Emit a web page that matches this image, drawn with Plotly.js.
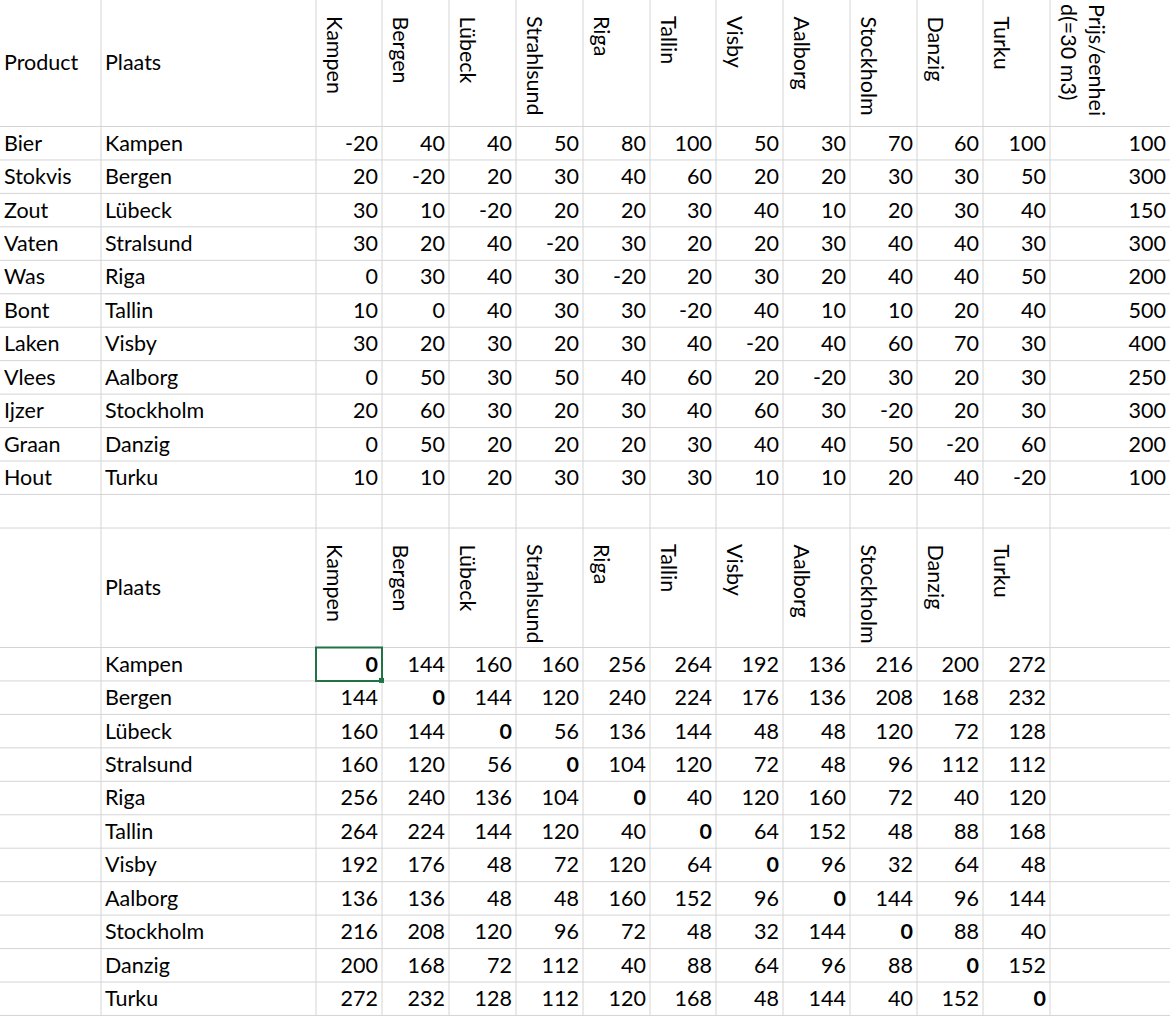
<!DOCTYPE html>
<html>
<head>
<meta charset="utf-8">
<script src="https://cdn.plot.ly/plotly-3.0.1.min.js"></script>
<style>body{margin:0;background:#fff}#sheet{width:1170px;height:1016px}</style>
</head>
<body>
<div id="sheet"></div>
<script>
// sheet contents
var products = ['Bier','Stokvis','Zout','Vaten','Was','Bont','Laken','Vlees','Ijzer','Graan','Hout'];
var places = ['Kampen','Bergen','Lübeck','Stralsund','Riga','Tallin','Visby','Aalborg','Stockholm','Danzig','Turku'];
var headCities = ['Kampen','Bergen','Lübeck','Strahlsund','Riga','Tallin','Visby','Aalborg','Stockholm','Danzig','Turku'];
var prices = [100,300,150,300,200,500,400,250,300,200,100];
var profit = [
  [-20,40,40,50,80,100,50,30,70,60,100],
  [20,-20,20,30,40,60,20,20,30,30,50],
  [30,10,-20,20,20,30,40,10,20,30,40],
  [30,20,40,-20,30,20,20,30,40,40,30],
  [0,30,40,30,-20,20,30,20,40,40,50],
  [10,0,40,30,30,-20,40,10,10,20,40],
  [30,20,30,20,30,40,-20,40,60,70,30],
  [0,50,30,50,40,60,20,-20,30,20,30],
  [20,60,30,20,30,40,60,30,-20,20,30],
  [0,50,20,20,20,30,40,40,50,-20,60],
  [10,10,20,30,30,30,10,10,20,40,-20]
];
var dist = [
  [0,144,160,160,256,264,192,136,216,200,272],
  [144,0,144,120,240,224,176,136,208,168,232],
  [160,144,0,56,136,144,48,48,120,72,128],
  [160,120,56,0,104,120,72,48,96,112,112],
  [256,240,136,104,0,40,120,160,72,40,120],
  [264,224,144,120,40,0,64,152,48,88,168],
  [192,176,48,72,120,64,0,96,32,64,48],
  [136,136,48,48,160,152,96,0,144,96,144],
  [216,208,120,96,72,48,32,144,0,88,40],
  [200,168,72,112,40,88,64,96,88,0,152],
  [272,232,128,112,120,168,48,144,40,152,0]
];

// sheet geometry (pixels)
var colEdges = [0,101,316,382,449,516,583,650,716,783,850,917,983,1050,1170];
var rowH = 33.45;
var top1 = 126.5, top2 = 647.5;
var head2Top = 528;
var FONT = 'Lato, "Open Sans", sans-serif';
var fs = 21.5;

function rowMid(top, i) { return top + rowH*(i+0.5) + 2; }

var tx = [], ty = [], tt = [], tp = [];
function cellL(c, y, s) { tx.push(colEdges[c]+4); ty.push(y); tt.push(s); tp.push('middle right'); }
function cellR(c, y, s) { tx.push(colEdges[c+1]-4); ty.push(y); tt.push(s); tp.push('middle left'); }

cellL(0, 65, 'Product'); cellL(1, 65, 'Plaats'); cellL(1, 590, 'Plaats');
products.forEach(function(p, i) {
  var y = rowMid(top1, i);
  cellL(0, y, p); cellL(1, y, places[i]);
  profit[i].forEach(function(v, j) { cellR(2+j, y, String(v)); });
  cellR(13, y, String(prices[i]));
});
places.forEach(function(p, i) {
  var y = rowMid(top2, i);
  cellL(1, y, p);
  dist[i].forEach(function(v, j) { cellR(2+j, y, i === j ? '<b>'+v+'</b>' : String(v)); });
});

var annotations = [];
headCities.forEach(function(c, j) {
  [14, head2Top+14].forEach(function(y0) {
    annotations.push({x: colEdges[2+j]+4, y: y0, text: c, textangle: 90, showarrow: false,
      xanchor: 'left', yanchor: 'top', font: {family: FONT, size: fs, color: '#000'}});
  });
});
annotations.push({x: colEdges[13]+4, y: 2, text: 'Prijs/eenhei<br>d(=30 m3)', textangle: 90, showarrow: false,
  xanchor: 'left', yanchor: 'top', align: 'left', font: {family: FONT, size: fs, color: '#000'}});

// gridlines
var shapes = [];
var gc = '#d4d4d4';
function hl(y) { shapes.push({type:'line', x0:0, x1:1170, y0:y, y1:y, line:{color:gc, width:1}}); }
function vl(x, y0, y1) { shapes.push({type:'line', x0:x, x1:x, y0:y0, y1:y1, line:{color:gc, width:1}}); }
for (var i = 0; i <= 11; i++) hl(top1 + rowH*i);
hl(head2Top);
for (var i = 0; i <= 11; i++) hl(top2 + rowH*i);
colEdges.slice(1, -1).forEach(function(x) { vl(x, 0, 1016); });
// selected cell
shapes.push({type:'rect', x0:colEdges[2], x1:colEdges[3], y0:top2, y1:top2+rowH, line:{color:'#217346', width:2}});
shapes.push({type:'rect', x0:colEdges[3]-3, x1:colEdges[3]+2, y0:top2+rowH-3, y1:top2+rowH+2, fillcolor:'#217346', line:{width:0}});

Plotly.newPlot('sheet', [{
  x: tx, y: ty, text: tt, mode: 'text', type: 'scatter', textposition: tp,
  textfont: {family: FONT, size: fs, color: '#000'}, hoverinfo: 'skip', cliponaxis: false
}], {
  width: 1170, height: 1016, margin: {t:0, r:0, l:0, b:0},
  paper_bgcolor: '#fff', plot_bgcolor: '#fff', showlegend: false,
  xaxis: {range: [0,1170], visible: false, fixedrange: true},
  yaxis: {range: [1016,0], visible: false, fixedrange: true},
  shapes: shapes, annotations: annotations
}, {displayModeBar: false, staticPlot: true});
</script>
</body>
</html>
